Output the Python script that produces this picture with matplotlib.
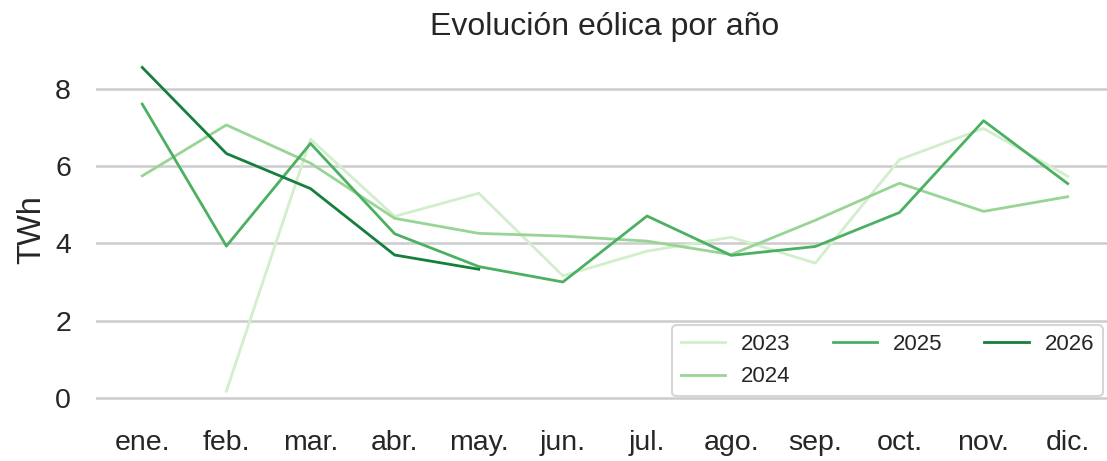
import numpy as np
import matplotlib
matplotlib.use("Agg")
import matplotlib.pyplot as plt

meses = ["ene.", "feb.", "mar.", "abr.", "may.", "jun.",
         "jul.", "ago.", "sep.", "oct.", "nov.", "dic."]

# TWh por mes y año
y2023 = [np.nan, 0.17, 6.70, 4.70, 5.30, 3.16, 3.80, 4.16, 3.49, 6.17, 6.98, 5.74]
y2024 = [5.75, 7.07, 6.08, 4.65, 4.26, 4.19, 4.06, 3.71, 4.60, 5.56, 4.83, 5.21]
y2025 = [7.61, 3.93, 6.59, 4.25, 3.40, 3.00, 4.71, 3.69, 3.92, 4.80, 7.18, 5.55]
y2026 = [8.56, 6.33, 5.42, 3.70, 3.33]

series = {"2023": y2023, "2024": y2024, "2025": y2025, "2026": y2026}
colores = ["#d3eecd", "#98d594", "#4bb062", "#157f3b"]

plt.rcParams["font.family"] = ["Liberation Sans", "DejaVu Sans"]
plt.rcParams["text.color"] = "#262626"
plt.rcParams["xtick.color"] = "#262626"
plt.rcParams["ytick.color"] = "#262626"
plt.rcParams["axes.labelcolor"] = "#262626"

fig = plt.figure(figsize=(11.07, 4.61), dpi=100)
ax = fig.add_axes([0.0867, 0.1163, 0.9196, 0.7725])

x = np.arange(len(meses))
for (anio, vals), c in zip(series.items(), colores):
    ax.plot(x[:len(vals)], vals, color=c, lw=2.0, label=anio)

ax.set_xticks(x)
ax.set_xticklabels(meses)
ax.set_yticks([0, 2, 4, 6, 8])
ax.tick_params(axis="x", length=0, pad=16, labelsize=20.5)
ax.tick_params(axis="y", length=0, pad=18, labelsize=20.5)
ax.grid(axis="y", color="#cccccc", lw=1.8)
ax.grid(axis="x", visible=False)
ax.set_axisbelow(True)
for s in ax.spines.values():
    s.set_visible(False)

ax.set_ylabel("TWh", fontsize=23.5, labelpad=6)
ax.set_title("Evolución eólica por año", fontsize=23, pad=12)

leg = ax.legend(loc="lower right", ncol=3, fontsize=16, frameon=True,
                handlelength=2.0, handletextpad=0.7, columnspacing=1.9,
                borderaxespad=0.5)
leg.get_frame().set_edgecolor("#cccccc")
leg.get_frame().set_linewidth(1.5)

fig.savefig("out.png", dpi=100)
